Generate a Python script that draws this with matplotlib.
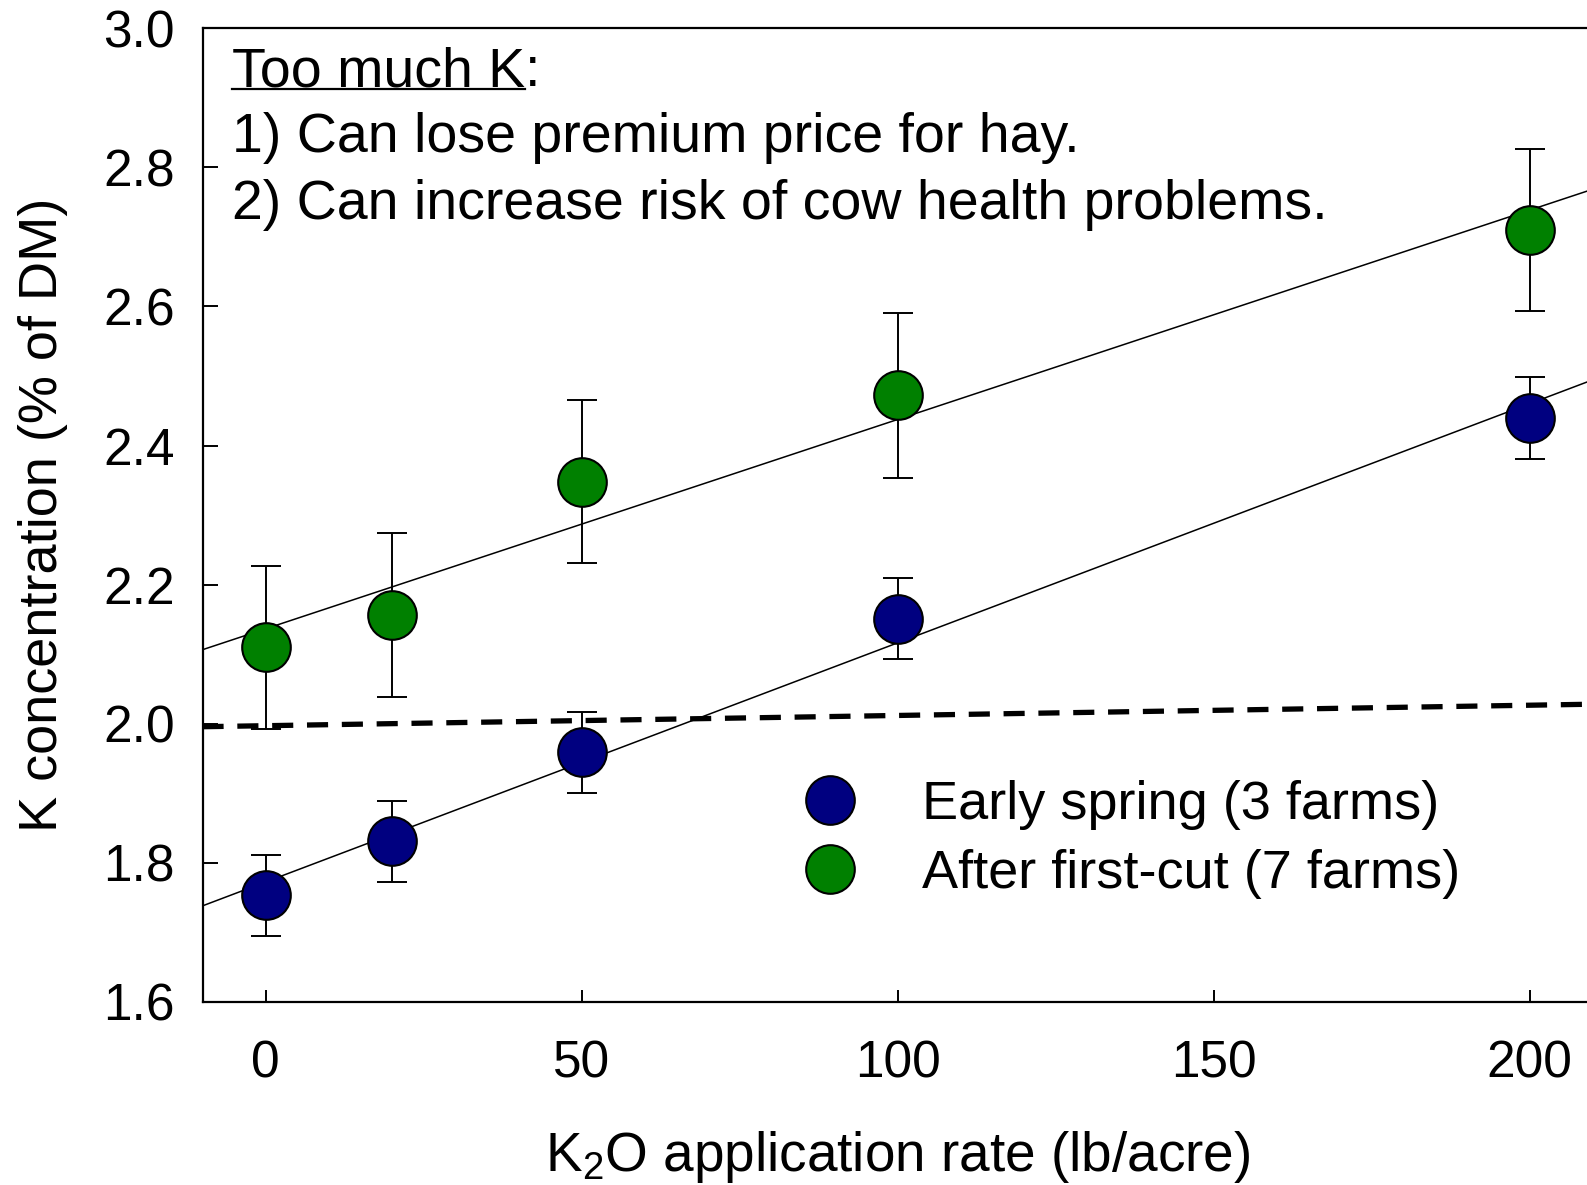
import matplotlib
matplotlib.use('Agg')
import matplotlib.pyplot as plt
import numpy as np

plt.rcParams['font.family'] = ['Liberation Sans', 'DejaVu Sans']
plt.rcParams['mathtext.fontset'] = 'custom'
plt.rcParams['mathtext.rm'] = 'Liberation Sans'

# data
rate = [0, 20, 50, 100, 200]
early_spring = [1.753, 1.831, 1.959, 2.151, 2.440]
early_err = [0.058, 0.058, 0.058, 0.058, 0.059]
first_cut = [2.110, 2.156, 2.348, 2.472, 2.710]
first_err = [0.117, 0.118, 0.117, 0.118, 0.117]

# dashed reference line (ends)
ref_x = [-10, 210]
ref_y = [1.9956, 2.028]

xlim = (-10, 210)
ylim = (1.6, 3.0)

fig = plt.figure(figsize=(15.87, 11.85), dpi=100)
# axes runs just past the right edge like the source picture
ax = fig.add_axes([0.1276, 0.1546, 0.8760, 0.8215])

# regression lines
fx = np.array(xlim)
for y in (early_spring, first_cut):
    b, a = np.polyfit(rate, y, 1)
    ax.plot(fx, a + b * fx, color='black', lw=1.1, zorder=2)

ax.plot(ref_x, ref_y, color='black', lw=3.8, dashes=(4, 2.6), zorder=2)

ax.errorbar(rate, early_spring, yerr=early_err, fmt='none', ecolor='black',
            elinewidth=1.4, capsize=11, capthick=1.4, zorder=3)
ax.errorbar(rate, first_cut, yerr=first_err, fmt='none', ecolor='black',
            elinewidth=1.4, capsize=11, capthick=1.4, zorder=3)
h1, = ax.plot(rate, early_spring, 'o', ms=35, mfc='#000080', mec='black',
              mew=1.5, zorder=4, label='Early spring (3 farms)')
h2, = ax.plot(rate, first_cut, 'o', ms=35, mfc='#008000', mec='black',
              mew=1.5, zorder=4, label='After first-cut (7 farms)')

ax.set_xlim(*xlim)
ax.set_ylim(*ylim)
ax.set_xticks([0, 50, 100, 150, 200])
ax.set_yticks(np.arange(1.6, 3.01, 0.2))
ax.set_yticklabels(['%.1f' % v for v in np.arange(1.6, 3.01, 0.2)])
ax.tick_params(axis='both', direction='in', labelsize=37, width=1.4)
ax.tick_params(axis='x', length=9, pad=27)
ax.tick_params(axis='y', length=11, pad=20)
for s in ax.spines.values():
    s.set_linewidth(1.6)

ax.set_xlabel(r'K$\mathregular{_2}$O application rate (lb/acre)', fontsize=39.5, labelpad=29)
ax.set_ylabel('K concentration (% of DM)', fontsize=39, labelpad=25)

leg = ax.legend(handles=[h1, h2], loc='upper left', bbox_to_anchor=(85, 1.919),
                bbox_transform=ax.transData, frameon=False, fontsize=39,
                handlelength=1.0, handletextpad=1.2, labelspacing=0.35,
                borderpad=0, borderaxespad=0, markerscale=1.0)

t1 = ax.text(-5.3, 2.937, 'Too much K', fontsize=40, va='center', ha='left')
ax.text(-5.3, 2.842, '1) Can lose premium price for hay.', fontsize=40, va='center')
ax.text(-5.3, 2.746, '2) Can increase risk of cow health problems.', fontsize=40, va='center')

# underline + colon after "Too much K"
fig.canvas.draw()
r = fig.canvas.get_renderer()
bb = t1.get_window_extent(r).transformed(fig.transFigure.inverted())
fig.text(bb.x1, bb.y0 + (bb.y1 - bb.y0) / 2, ':', fontsize=40, va='center', ha='left',
         transform=fig.transFigure)
uy = bb.y0 + (bb.y1 - bb.y0) * 0.17
fig.add_artist(plt.Line2D([bb.x0, bb.x1], [uy, uy], color='black', lw=1.6,
                          transform=fig.transFigure))

fig.savefig('out.png', dpi=100)
